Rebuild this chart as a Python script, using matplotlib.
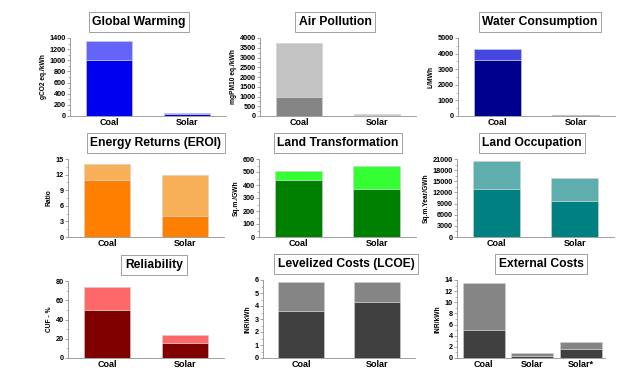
import numpy as np
import matplotlib
matplotlib.use("Agg")
import matplotlib.pyplot as plt
from matplotlib.ticker import MultipleLocator, AutoMinorLocator

plt.rcParams['font.family'] = ['Liberation Sans', 'DejaVu Sans']
plt.rcParams['font.weight'] = 'bold'

cats = ["Coal", "Solar"]
cats_ext = ["Coal", "Solar", "Solar*"]

# base (dark) part and total height of each stacked bar
gw_base = [1000, 30]
gw_total = [1350, 55]
ap_base = [1000, 60]
ap_total = [3750, 120]
wc_base = [3600, 40]
wc_total = [4300, 90]
eroi_base = [11, 4]
eroi_total = [14, 12]
lt_base = [435, 370]
lt_total = [510, 550]
lo_base = [13000, 9700]
lo_total = [20500, 15800]
rel_base = [50, 16]
rel_total = [74, 24]
lcoe_base = [3.6, 4.3]
lcoe_total = [5.85, 5.85]
ext_base = [5.0, 0.3, 1.6]
ext_total = [13.5, 0.9, 2.8]

W, H = 643, 385
fig = plt.figure(figsize=(W / 100, H / 100), dpi=100)

# panel: (title, ylabel, cats, base, total, dark, light, ymax, step, box px, title centre x)
panels = [
    ("Global Warming", "gCO2 eq./kWh", cats, gw_base, gw_total, "#0000f0", "#6464f8", 1400, 200, (70, 38, 156, 78), 139),
    ("Air Pollution", "mgPM10 eq./kWh", cats, ap_base, ap_total, "#858585", "#c3c3c3", 4000, 500, (260, 38, 156, 78), 335),
    ("Water Consumption", "L/MWh", cats, wc_base, wc_total, "#00008e", "#4646e0", 5000, 1000, (458, 38, 157, 78), 540),
    ("Energy Returns (EROI)", "Ratio", cats, eroi_base, eroi_total, "#ff8000", "#f8b058", 15, 3, (68, 159, 156, 78), 156),
    ("Land Transformation", "Sq.m./GWh", cats, lt_base, lt_total, "#008000", "#33ff33", 600, 100, (259, 159, 157, 78), 338),
    ("Land Occupation", "Sq.m.Year/GWh", cats, lo_base, lo_total, "#008080", "#5eaeae", 21000, 3000, (457, 159, 157, 78), 532),
    ("Reliability", "CUF - %", cats, rel_base, rel_total, "#800000", "#ff6868", 80, 20, (68, 281, 156, 77), 154),
    ("Levelized Costs (LCOE)", "INR/kWh", cats, lcoe_base, lcoe_total, "#404040", "#858585", 6, 1, (263, 280, 152, 78), 346),
    ("External Costs", "INR/kWh", cats_ext, ext_base, ext_total, "#404040", "#858585", 14, 2, (457, 280, 148, 78), 541),
]

for title, ylab, names, base, total, dark, light, ymax, step, box, tx in panels:
    l, t, w, h = box
    ax = fig.add_axes([l / W, 1 - (t + h) / H, w / W, h / H])
    x = np.arange(len(names))
    top = np.array(total) - np.array(base)
    bw = 0.6 if len(names) == 2 else 0.86
    ax.bar(x, base, bw, color=dark, edgecolor="#d0d0d0", linewidth=0.4)
    ax.bar(x, top, bw, bottom=base, color=light, edgecolor="#d0d0d0", linewidth=0.4)
    if len(names) == 2:
        ax.set_xlim(-0.5, 1.5)
    else:
        ax.set_xlim(-0.55, 2.5)
    ax.set_ylim(0, ymax)
    ax.yaxis.set_major_locator(MultipleLocator(step))
    ax.yaxis.set_minor_locator(AutoMinorLocator(2))
    ax.set_xticks(x)
    ax.set_xticklabels(names, fontsize=6.5, fontweight="bold")
    ax.tick_params(axis="y", labelsize=5.2, length=2, width=0.5, pad=1, color="#808080")
    ax.tick_params(axis="y", which="minor", length=1.2, width=0.4, color="#808080")
    ax.tick_params(axis="x", length=0, pad=1.5)
    for lab in ax.get_yticklabels():
        lab.set_fontweight("bold")
    ax.set_ylabel(ylab, fontsize=4.8, fontweight="bold", labelpad=2)
    for s in ["top", "right"]:
        ax.spines[s].set_visible(False)
    for s in ["left", "bottom"]:
        ax.spines[s].set_color("#909090")
        ax.spines[s].set_linewidth(0.6)
    fig.text(tx / W, 1 - (t - 16) / H, title, fontsize=8.7, fontweight="bold",
             ha="center", va="center",
             bbox=dict(boxstyle="square,pad=0.3", facecolor="white", edgecolor="#a0a0a0", linewidth=0.7))

fig.savefig("out.png", dpi=100, facecolor="white")
